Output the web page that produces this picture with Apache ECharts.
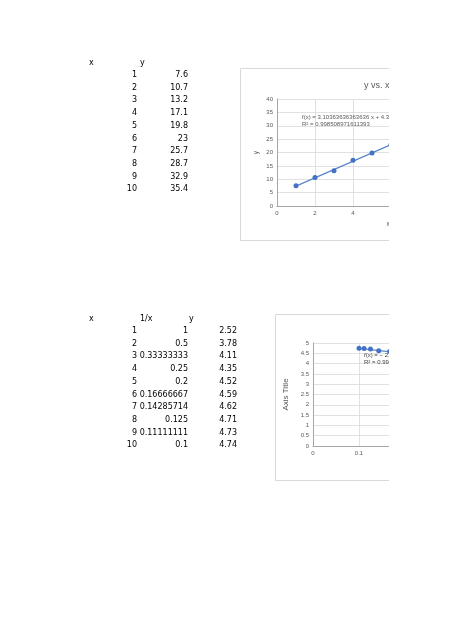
<!DOCTYPE html>
<html>
<head>
<meta charset="utf-8">
<script src="https://cdn.jsdelivr.net/npm/echarts@6/dist/echarts.min.js"></script>
<style>
  html, body { margin: 0; background: #fff; }
  #clip { width: 389px; height: 632px; overflow: hidden; }
  #main { width: 900px; height: 632px; }
</style>
</head>
<body>
<div id="clip"><div id="main"></div></div>
<script>
// sheet 1: y against x
const xValues = [1, 2, 3, 4, 5, 6, 7, 8, 9, 10];
const yValues = [7.6, 10.7, 13.2, 17.1, 19.8, 23, 25.7, 28.7, 32.9, 35.4];
const trend1 = [[1, 7.44], [10, 35.38]];
const trendText1 = ["f(x) = 3.10363636363636 x + 4.34", "R² = 0.998508971611393"];

// sheet 2: y against 1/x
const invLabels = ["1", "0.5", "0.33333333", "0.25", "0.2", "0.16666667", "0.14285714", "0.125", "0.11111111", "0.1"];
const yValues2 = [2.52, 3.78, 4.11, 4.35, 4.52, 4.59, 4.62, 4.71, 4.73, 4.74];
const trend2 = [[0.1, 4.74], [1, 2.52]];
const trendText2 = ["f(x) = − 2.47602 x + 4.99225", "R² = 0.9985"];

document.addEventListener("DOMContentLoaded", function () {
  const chart = echarts.init(document.getElementById("main"));

  const tableFont = { fontFamily: "DejaVu Sans", fontSize: 8, fill: "#000" };
  const chartFont = "Liberation Sans";
  const gray = "#595959";
  const blue = "#4472c4";

  function cell(text, x, y, align) {
    return {
      type: "text", x: x, y: y, silent: true,
      style: Object.assign({ text: String(text), align: align, verticalAlign: "middle" }, tableFont)
    };
  }

  const graphics = [];

  // table 1
  graphics.push(cell("x", 89, 63, "left"), cell("y", 140, 63, "left"));
  xValues.forEach((x, i) => {
    const y = 75 + i * 12.7;
    graphics.push(cell(x, 137, y, "right"), cell(yValues[i], 188, y, "right"));
  });

  // table 2
  graphics.push(cell("x", 89, 319, "left"), cell("1/x", 140, 319, "left"), cell("y", 189, 319, "left"));
  xValues.forEach((x, i) => {
    const y = 331 + i * 12.7;
    graphics.push(cell(x, 137, y, "right"), cell(invLabels[i], 188, y, "right"), cell(yValues2[i], 237, y, "right"));
  });

  // chart frames
  graphics.push(
    { type: "rect", z: -10, shape: { x: 240.5, y: 68.5, width: 290, height: 172 }, style: { fill: "#fff", stroke: "#d9d9d9", lineWidth: 1 } },
    { type: "rect", z: -10, shape: { x: 275.5, y: 314.5, width: 600, height: 166 }, style: { fill: "#fff", stroke: "#d9d9d9", lineWidth: 1 } }
  );

  // x axis title of the first chart (sits right at the page cut)
  graphics.push({
    type: "text", x: 388, y: 224, silent: true,
    style: { text: "x", fontFamily: chartFont, fontSize: 6.5, fill: gray, align: "center", verticalAlign: "middle" }
  });

  // trendline labels
  function eq(lines, x, y, color) {
    return lines.map((t, i) => ({
      type: "text", x: x, y: y + i * 7.5, z: 20, silent: true,
      style: { text: t, fontFamily: chartFont, fontSize: 6, fill: color, verticalAlign: "middle" }
    }));
  }
  graphics.push(...eq(trendText1, 302, 117, gray));
  graphics.push(...eq(trendText2, 364, 355, "#404040"));

  const axisLabel = { fontFamily: chartFont, fontSize: 6, color: gray, margin: 4 };
  const splitLine = { show: true, lineStyle: { color: "#d9d9d9", width: 0.8 } };
  const axisLine = { show: true, lineStyle: { color: "#a6a6a6", width: 1 } };

  const option = {
    animation: false,
    backgroundColor: "#fff",
    title: {
      text: "y vs. x", left: 359, top: 76,
      textStyle: { fontFamily: chartFont, fontSize: 9, fontWeight: "normal", color: gray }
    },
    graphic: graphics,
    grid: [
      { left: 277, top: 99, width: 228, height: 107 },
      { left: 313, top: 343, width: 552, height: 103 }
    ],
    xAxis: [
      {
        gridIndex: 0, type: "value", min: 0, max: 12, interval: 2,
        axisLine: axisLine, axisTick: { show: false }, axisLabel: axisLabel, splitLine: splitLine
      },
      {
        gridIndex: 1, type: "value", min: 0, max: 1.2, interval: 0.1,
        axisLine: axisLine, axisTick: { show: false }, axisLabel: axisLabel, splitLine: splitLine
      }
    ],
    yAxis: [
      {
        gridIndex: 0, type: "value", min: 0, max: 40, interval: 5,
        name: "y", nameLocation: "middle", nameGap: 17, nameRotate: 90,
        nameTextStyle: { fontFamily: chartFont, fontSize: 6.5, color: gray },
        axisLine: axisLine, axisTick: { show: false }, axisLabel: axisLabel, splitLine: splitLine
      },
      {
        gridIndex: 1, type: "value", min: 0, max: 5, interval: 0.5,
        name: "Axis Title", nameLocation: "middle", nameGap: 19, nameRotate: 90,
        nameTextStyle: { fontFamily: chartFont, fontSize: 8, color: gray },
        axisLine: axisLine, axisTick: { show: false }, axisLabel: axisLabel, splitLine: splitLine
      }
    ],
    series: [
      {
        type: "line", xAxisIndex: 0, yAxisIndex: 0, data: trend1, showSymbol: false,
        lineStyle: { color: "#5b87c9", width: 1.2 }, silent: true, z: 2
      },
      {
        type: "scatter", xAxisIndex: 0, yAxisIndex: 0, symbolSize: 5,
        data: xValues.map((x, i) => [x, yValues[i]]),
        itemStyle: { color: blue, opacity: 1 }, z: 3
      },
      {
        type: "line", xAxisIndex: 1, yAxisIndex: 1, data: trend2, showSymbol: false,
        lineStyle: { color: "#5b87c9", width: 1.2 }, silent: true, z: 2
      },
      {
        type: "scatter", xAxisIndex: 1, yAxisIndex: 1, symbolSize: 5,
        data: invLabels.map((u, i) => [parseFloat(u), yValues2[i]]),
        itemStyle: { color: blue, opacity: 1 }, z: 3
      }
    ]
  };

  chart.setOption(option);
});
</script>
</body>
</html>
